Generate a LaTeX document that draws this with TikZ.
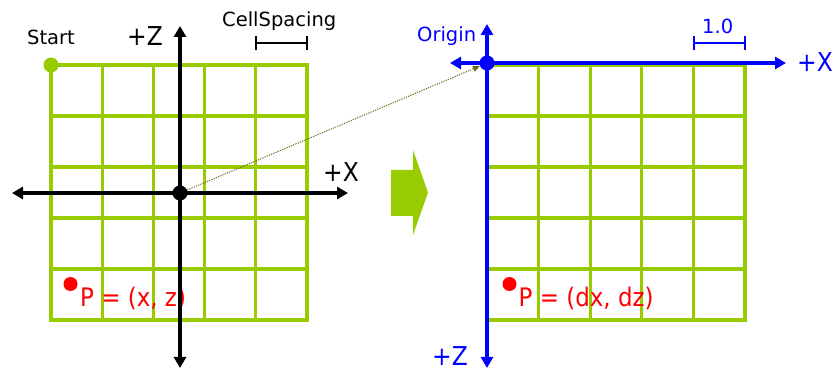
\documentclass[tikz,border=0pt]{standalone}
\usepackage{fontspec}
\setmainfont{DejaVu Sans}
\newfontfamily\narrowfont{DejaVu Sans}[FakeStretch=0.9]
\usetikzlibrary{arrows.meta}
\definecolor{gridgreen}{RGB}{153,204,0}
\definecolor{axisblue}{RGB}{0,0,255}
\definecolor{ptred}{RGB}{255,0,0}
\definecolor{dotolive}{RGB}{102,102,20}
\begin{document}
\begin{tikzpicture}[x=1pt,y=-1pt,
  gridline/.style={gridgreen,line width=3.2pt,line cap=rect},
  blackaxis/.style={black,line width=4pt,{Triangle[length=11pt,width=12pt]}-{Triangle[length=11pt,width=12pt]}},
  blueaxis/.style={axisblue,line width=4.5pt,{Triangle[length=11pt,width=12pt]}-{Triangle[length=11pt,width=12pt]}},
  dotnode/.style={circle,inner sep=0pt,minimum size=15pt},
  txt/.style={inner sep=0pt,anchor=base west,font=\fontsize{19.5}{22}\selectfont},
  bigtxt/.style={inner sep=0pt,anchor=base west,font=\narrowfont\fontsize{26}{28}\selectfont},
  ptxt/.style={inner sep=0pt,anchor=base west,text=ptred,font=\narrowfont\fontsize{25.5}{28}\selectfont},
  bracket/.style={black,line width=1.7pt},
  connector/.style={dotolive,line width=1pt,dash pattern=on 1.2pt off 1.2pt,-{Triangle[length=7pt,width=6pt]}},
  bigarrow/.style={fill=gridgreen,draw=none}
]
\useasboundingbox (0,0) rectangle (836,371);

% ---------- left grid ----------
\foreach \i in {0,...,5}{
  \draw[gridline] ({51+51.2*\i},65) -- ({51+51.2*\i},320);
  \draw[gridline] (51,{65+51*\i}) -- (307,{65+51*\i});
}
% ---------- right grid ----------
\foreach \i in {0,...,5}{
  \draw[gridline] ({487+51.6*\i},65) -- ({487+51.6*\i},320);
  \draw[gridline] (487,{65+51*\i}) -- (745,{65+51*\i});
}

% ---------- left texts ----------
\node[txt] (start) at (27,45) {Start};
\node[bigtxt] (lz) at (127,46) {+Z};
\node[txt] (cellsp) at (222,27) {CellSpacing};
\node[bigtxt] (lx) at (323,182) {+X};
\node[ptxt] (lp) at (80,307) {P = (x, z)};

% ---------- left axes ----------
\coordinate (lxa) at (12,193);
\coordinate (lxb) at (348,193);
\coordinate (lza) at (180,26);
\coordinate (lzb) at (180,368);
\draw[blackaxis] (lxa) -- (lxb);
\draw[blackaxis] (lza) -- (lzb);

% cell spacing bracket
\coordinate (csa) at (256,43);
\coordinate (csb) at (307,43);
\draw[bracket] (csa) -- (csb);
\draw[bracket] ([yshift=-7pt]csa) -- ([yshift=7pt]csa);
\draw[bracket] ([yshift=-7pt]csb) -- ([yshift=7pt]csb);

% dots
\node[dotnode,fill=gridgreen] (startdot) at (51,65) {};
\node[dotnode,fill=black] (ldot) at (180,193) {};
\node[dotnode,fill=ptred,minimum size=14pt] (lpdot) at (70.5,284) {};

% ---------- big green arrow ----------
\fill[bigarrow] (391,170) -- (413,170) -- (413,150) -- (428,192.5) -- (413,235) -- (413,216) -- (391,216) -- cycle;

% ---------- right side ----------
\node[ptxt] (rp) at (518.5,307) {P = (dx, dz)};
\node[dotnode,fill=ptred,minimum size=14pt] (rpdot) at (509.5,284) {};

\coordinate (rxa) at (450,63);
\coordinate (rxb) at (786,63);
\coordinate (rza) at (487,24);
\coordinate (rzb) at (487,368);
\draw[blueaxis] (rxa) -- (rxb);
\draw[blueaxis] (rza) -- (rzb);
\node[dotnode,fill=axisblue] (rdot) at (487,63) {};

\node[txt,text=axisblue] (origin) at (417,41.5) {Origin};
\node[txt,text=axisblue] (one) at (702,33.5) {1.0};
\node[bigtxt,text=axisblue] (rx) at (797,72) {+X};
\node[bigtxt,text=axisblue] (rz) at (432,366) {+Z};

\coordinate (ona) at (694,43);
\coordinate (onb) at (745,43);
\draw[bracket,axisblue] (ona) -- (onb);
\draw[bracket,axisblue] ([yshift=-7pt]ona) -- ([yshift=7pt]ona);
\draw[bracket,axisblue] ([yshift=-7pt]onb) -- ([yshift=7pt]onb);

% dotted connector
\draw[connector] (ldot) -- (rdot);
\end{tikzpicture}
\end{document}
